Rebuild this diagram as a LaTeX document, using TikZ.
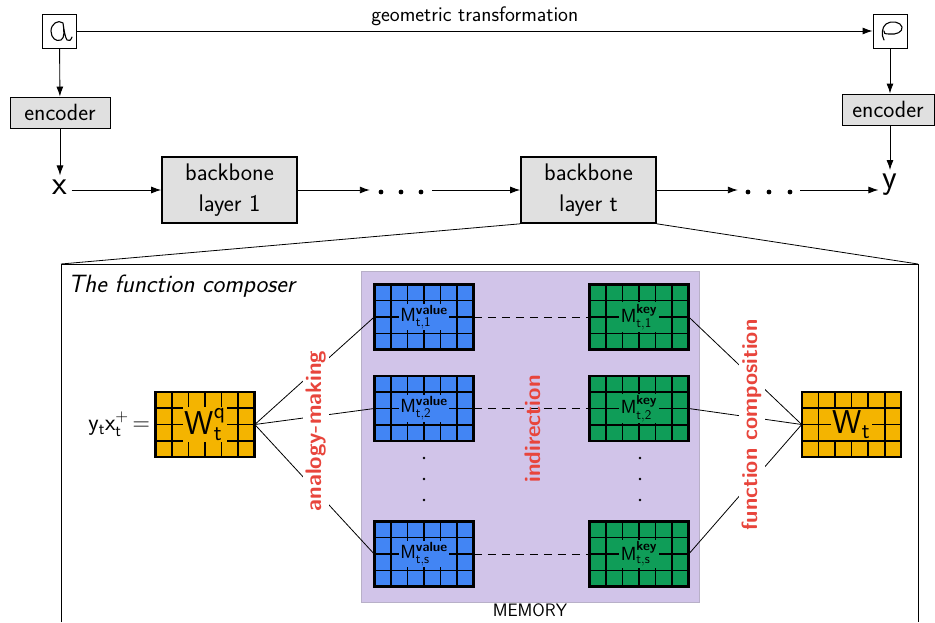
\RequirePackage{fix-cm}
\documentclass[tikz,border=0pt]{standalone}
\usepackage{amsmath}
\usepackage{fontspec}
\renewcommand{\familydefault}{\sfdefault}
\usetikzlibrary{calc,arrows.meta}
\definecolor{boxgray}{HTML}{E0E0E0}
\definecolor{memfill}{HTML}{D1C4E9}
\definecolor{memedge}{HTML}{B8B0C8}
\definecolor{gblue}{HTML}{4285F4}
\definecolor{ggreen}{HTML}{0F9D58}
\definecolor{gyellow}{HTML}{F4B400}
\definecolor{labred}{HTML}{E8453C}
\newcommand{\gridmat}[5]{%
  \node[matbox, fill=#4] (#1) at (#2,#3) {};
  \foreach \i in {1,...,5}
    \draw[gridl] ($(#1.south west)!\i/6!(#1.south east)$) -- ($(#1.north west)!\i/6!(#1.north east)$);
  \foreach \j in {1,2,3}
    \draw[gridl] ($(#1.south west)!\j/4!(#1.north west)$) -- ($(#1.south east)!\j/4!(#1.north east)$);
  \node[fill=#4, inner sep=1.5pt] at (#1) {#5};
  \draw[gridl] (#1.south west) rectangle (#1.north east);
}
\begin{document}
\begin{tikzpicture}[x=1pt,y=-1pt,
  arr/.style={-{Latex[length=10pt,width=7pt]}, line width=0.9pt},
  thinl/.style={line width=0.8pt},
  imgbox/.style={draw, line width=0.9pt, fill=white, minimum width=34pt, minimum height=34pt, inner sep=0pt},
  encbox/.style={draw, line width=0.9pt, fill=boxgray, minimum height=31pt, inner sep=0pt, font=\fontsize{23.5}{26}\selectfont},
  bbbox/.style={draw, line width=1.6pt, fill=boxgray, minimum width=135pt, minimum height=66pt, inner sep=0pt, align=center, font=\fontsize{24}{31}\selectfont},
  matbox/.style={draw, line width=1.6pt, minimum width=98pt, minimum height=64pt, inner sep=0pt},
  gridl/.style={line width=1.6pt},
  redlab/.style={text=labred, font=\bfseries\fontsize{22.5}{26}\selectfont, inner sep=3pt},
  bigvar/.style={font=\fontsize{34}{36}\selectfont, inner sep=4pt},
  dotsnode/.style={minimum width=62pt, minimum height=10pt, inner sep=0pt}
]
\useasboundingbox (0,0) rectangle (935,622);

% ---------- top: images ----------
\node[imgbox] (ia) at (59.5,31) {};
\node[imgbox] (ib) at (890,31) {};
% handwritten glyphs
\draw[line width=1.1pt, line cap=round, line join=round]
  (63,23) .. controls (58,19) and (51,24) .. (51,31)
  .. controls (51,38) and (56,42) .. (61,40)
  .. controls (65,38) and (64,30) .. (63,23)
  .. controls (64,30) and (65,37) .. (67,40)
  .. controls (69,42) and (71,40) .. (72,37);
\draw[line width=1.1pt, line cap=round, line join=round]
  (884,40) .. controls (881,35) and (882,27) .. (886,24)
  .. controls (891,20) and (901,22) .. (902,27)
  .. controls (903,32) and (896,35) .. (889,34)
  .. controls (885,34) and (883,33) .. (884,31);

\node[encbox, minimum width=100pt] (enc1) at (60,112.5) {encoder};
\node[encbox, minimum width=92pt] (enc2) at (888,109.5) {encoder};

\node[bigvar] (x) at (60,187) {x};
\node[bigvar] (y) at (890,185) {y};

\node[bbbox] (b1) at (229.5,190) {backbone\\layer 1};
\node[bbbox] (bt) at (588.5,190) {backbone\\layer t};

\node[dotsnode] (d1) at (401,190) {};
\node[dotsnode] (d2) at (769,190) {};
\foreach \k in {-1,0,1} {
  \fill ($(d1)+(\k*20,2)$) circle (2.4pt);
  \fill ($(d2)+(\k*21,2)$) circle (2.4pt);
}

\draw[arr] (ia) -- node[above=1pt, font=\fontsize{21}{24}\selectfont]{geometric transformation} (ib);
\draw[arr] (ia) -- (enc1);
\draw[arr] (enc1) -- (x);
\draw[arr] (ib) -- (ib |- enc2.north);
\draw[arr] (y |- enc2.south) -- (y);
\draw[arr] (x.east |- b1.west) -- (b1.west);
\draw[arr] (b1) -- (d1);
\draw[arr] (d1) -- (bt);
\draw[arr] (bt) -- (d2);
\draw[arr] (d2) -- (y.west |- d2.east);

% ---------- zoom frame ----------
\coordinate (fl) at (61,264);
\coordinate (fr) at (918,264);
\coordinate (fbl) at (61,622);
\coordinate (fbr) at (918,622);
\draw[thinl] (fbl) -- (fl) -- (fr) -- (fbr);
\draw[thinl] (bt.south west) -- (fl);
\draw[thinl] (bt.south east) -- (fr);

\node[anchor=west, font=\itshape\fontsize{25}{28}\selectfont, inner sep=0pt] (title) at (68,286) {The function composer};

% ---------- memory ----------
\node[draw=memedge, fill=memfill, line width=0.8pt, minimum width=338pt, minimum height=331pt, inner sep=0pt] (mem) at (530,436.5) {};
\node[below=0pt, font=\fontsize{18}{20}\selectfont, inner sep=1pt] (memlab) at (mem.south) {MEMORY};

\gridmat{v1}{424}{317}{gblue}{\fontsize{19}{21}\selectfont$\mathsf{M}^{\textbf{value}}_{\mathsf{t,1}}$}
\gridmat{v2}{424}{408.5}{gblue}{\fontsize{19}{21}\selectfont$\mathsf{M}^{\textbf{value}}_{\mathsf{t,2}}$}
\gridmat{vs}{424}{554}{gblue}{\fontsize{19}{21}\selectfont$\mathsf{M}^{\textbf{value}}_{\mathsf{t,s}}$}
\gridmat{k1}{639}{317}{ggreen}{\fontsize{19}{21}\selectfont$\mathsf{M}^{\textbf{key}}_{\mathsf{t,1}}$}
\gridmat{k2}{639}{408.5}{ggreen}{\fontsize{19}{21}\selectfont$\mathsf{M}^{\textbf{key}}_{\mathsf{t,2}}$}
\gridmat{ks}{639}{554}{ggreen}{\fontsize{19}{21}\selectfont$\mathsf{M}^{\textbf{key}}_{\mathsf{t,s}}$}

\gridmat{wq}{205}{424.5}{gyellow}{\fontsize{33}{35}\selectfont$\mathsf{W}^{\mathsf{q}}_{\mathsf{t}}$}
\gridmat{wt}{851.5}{424.5}{gyellow}{\fontsize{33}{35}\selectfont$\mathsf{W}_{\mathsf{t}}$}

\foreach \yy in {458,479,500} {
  \fill (424,\yy) circle (1.4pt);
  \fill (640,\yy) circle (1.4pt);
}

\draw[thinl, dashed, dash pattern=on 8pt off 6pt] (v1) -- (k1);
\draw[thinl, dashed, dash pattern=on 8pt off 6pt] (v2) -- (k2);
\draw[thinl, dashed, dash pattern=on 8pt off 6pt] (vs) -- (ks);

\draw[thinl] (wq.east) -- (v1.west);
\draw[thinl] (wq.east) -- (v2.west);
\draw[thinl] (wq.east) -- (vs.west);
\draw[thinl] (k1.east) -- (wt.west);
\draw[thinl] (k2.east) -- (wt.west);
\draw[thinl] (ks.east) -- (wt.west);

\node[redlab, fill=white, rotate=90] (lab1) at (316,431) {analogy-making};
\node[redlab, rotate=90, font=\bfseries\fontsize{22.5}{26}\selectfont] (lab2) at (533,429) {indirection};
\node[redlab, fill=white, rotate=90, font=\bfseries\fontsize{22}{26}\selectfont] (lab3) at (752,425) {function composition};

\node[anchor=east, font=\fontsize{24}{26}\selectfont, inner sep=5pt] (eq) at (wq.west) {$\mathsf{y}_{\mathsf{t}}\mathsf{x}_{\mathsf{t}}^{\mathsf{+}}\,\mathsf{=}$};
\end{tikzpicture}
\end{document}
